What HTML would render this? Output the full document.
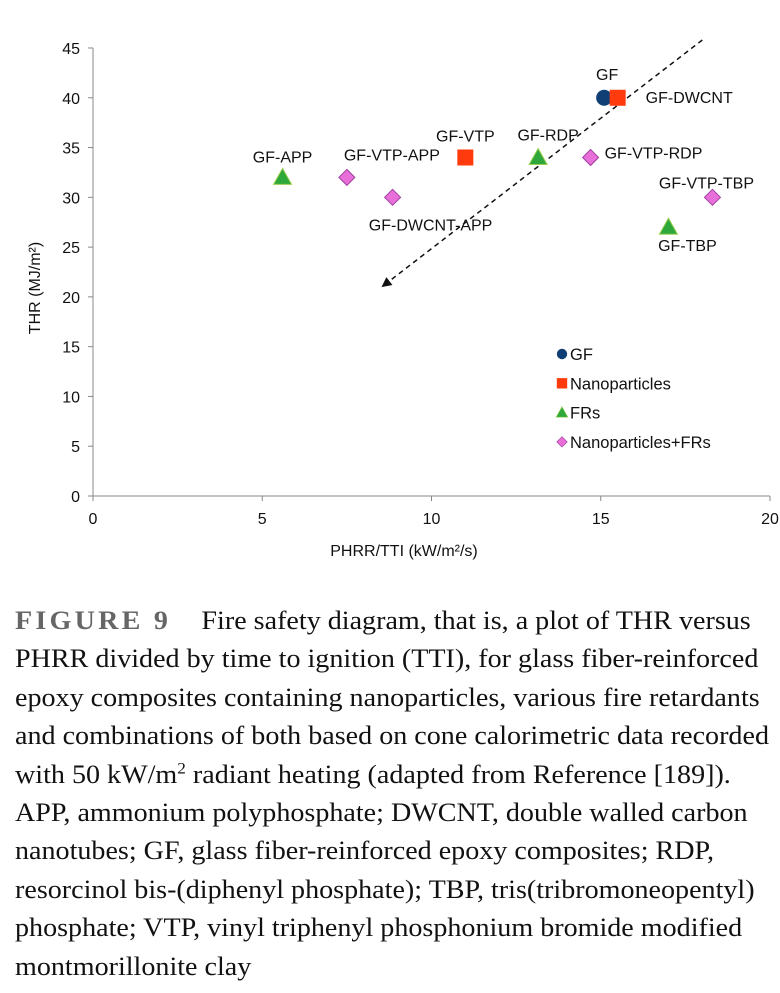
<!DOCTYPE html>
<html><head><meta charset="utf-8"><style>
body{margin:0;width:780px;height:993px;background:#fff;overflow:hidden;position:relative}
svg{position:absolute;left:0;top:0}
#cap{position:absolute;left:15px;top:602px;font-family:"Liberation Serif",serif;font-size:26px;line-height:38.4px;color:#111;white-space:nowrap;transform:scaleX(1.08);transform-origin:0 0}
#cap b{color:#666;letter-spacing:3px;font-weight:bold;margin-right:28px}
</style></head><body>
<svg id="chart" width="780" height="600" font-family="Liberation Sans, sans-serif"></svg>
<div id="cap"><b>FIGURE 9</b>Fire safety diagram, that is, a plot of THR versus<br>PHRR divided by time to ignition (TTI), for glass fiber-reinforced<br>epoxy composites containing nanoparticles, various fire retardants<br>and combinations of both based on cone calorimetric data recorded<br>with 50 kW/m<sup style="font-size:16px;line-height:0">2</sup> radiant heating (adapted from Reference [189]).<br>APP, ammonium polyphosphate; DWCNT, double walled carbon<br>nanotubes; GF, glass fiber-reinforced epoxy composites; RDP,<br>resorcinol bis-(diphenyl phosphate); TBP, tris(tribromoneopentyl)<br>phosphate; VTP, vinyl triphenyl phosphonium bromide modified<br>montmorillonite clay</div>
<script>
const labels=["GF","GF-DWCNT","GF-VTP","GF-RDP","GF-VTP-RDP","GF-APP","GF-VTP-APP","GF-DWCNT-APP","GF-VTP-TBP","GF-TBP"];
const types=["GF","Nano","Nano","FR","Both","FR","Both","Both","Both","FR"];
const xVals=[15.1,15.5,11.0,13.15,14.7,5.6,7.5,8.85,18.3,17.0];
const yVals=[40,40,34,34,34,32,32,30,30,27];
const xTicks=[0,5,10,15,20];
const yTicks=[0,5,10,15,20,25,30,35,40,45];
const arrowStart=[18.0,45.8], arrowEnd=[8.57,21.1];
const labelOffsets={"GF":[3,-18,"middle"],"GF-DWCNT":[28,5,"start"],"GF-VTP":[0,-16,"middle"],"GF-RDP":[10,-17,"middle"],"GF-VTP-RDP":[14,1,"start"],"GF-APP":[0,-15,"middle"],"GF-VTP-APP":[45,-17,"middle"],"GF-DWCNT-APP":[38,33,"middle"],"GF-VTP-TBP":[-6,-9,"middle"],"GF-TBP":[19,24,"middle"]};
const NS="http://www.w3.org/2000/svg",svg=document.getElementById('chart');
const X=v=>93+v*33.85, Y=v=>496-v*9.956;
function el(t,a,p){const e=document.createElementNS(NS,t);for(const k in a)e.setAttribute(k,a[k]);(p||svg).appendChild(e);return e;}
function txt(s,x,y,anc,size,p){const t=el('text',{x:x,y:y,'text-anchor':anc,'font-size':size,fill:'#111'},p);t.textContent=s;return t;}
const ax=el('g',{});


el('line',{x1:93,y1:Y(45),x2:93,y2:496,stroke:'#888'},ax);
el('line',{x1:93,y1:496,x2:770,y2:496,stroke:'#888'},ax);
yTicks.forEach(v=>{el('line',{x1:88,x2:93,y1:Y(v),y2:Y(v),stroke:'#888'},ax);const t=txt(String(v),80,Y(v)+6,'end',16,ax);});
xTicks.forEach(v=>{el('line',{x1:X(v),x2:X(v),y1:496,y2:501,stroke:'#888'},ax);const t=txt(String(v),X(v),524,'middle',16,ax);});
const xt=txt('PHRR/TTI (kW/m²/s)',404,556,'middle',16);


const yt=txt('THR (MJ/m²)',0,0,'middle',16);
yt.setAttribute('transform','translate(40,288) rotate(-90)');


const defs=el('defs',{});
const m=el('marker',{id:'ah',markerWidth:10,markerHeight:10,refX:8,refY:5,orient:'auto',markerUnits:'userSpaceOnUse'},defs);
el('path',{d:'M0,0 L10,5 L0,10 Z',fill:'#111'},m);
const ar=el('line',{x1:X(arrowStart[0]),y1:Y(arrowStart[1]),x2:X(arrowEnd[0]),y2:Y(arrowEnd[1]),stroke:'#111','stroke-width':1.5,'stroke-dasharray':'5,4','marker-end':'url(#ah)'});


function marker(type,x,y,p){
 if(type==='GF')return el('circle',{cx:x,cy:y,r:8,fill:'#0f3f74'},p);
 if(type==='Nano')return el('rect',{x:x-8,y:y-8,width:16,height:16,fill:'#ff3b0e'},p);
 if(type==='FR')return el('path',{d:`M${x},${y-9} L${x+9},${y+7} L${x-9},${y+7} Z`,fill:'#2ea83a',stroke:'#9acd50'},p);
 return el('path',{d:`M${x},${y-8} L${x+8},${y} L${x},${y+8} L${x-8},${y} Z`,fill:'#e86fd9',stroke:'#a040a0'},p);
}
labels.forEach((l,i)=>{
 const g=el('g',{});
 
 
 const x=X(xVals[i]),y=Y(yVals[i]);
 marker(types[i],x,y,g);
 const o=labelOffsets[l];
 txt(l,x+o[0],y+o[1],o[2],16,g);
});
const legItems=[["GF","GF"],["Nano","Nanoparticles"],["FR","FRs"],["Both","Nanoparticles+FRs"]];
const lg=el('g',{});


legItems.forEach((it,i)=>{
 const y=354+i*29.3;
 const g=el('g',{},lg);
 
 
 const mk=marker(it[0],562,y,g);mk.setAttribute('transform',`translate(562,${y}) scale(0.65) translate(-562,${-y})`);
 txt(it[1],570,y+6,'start',16.5,g);
});
</script>
</body></html>
